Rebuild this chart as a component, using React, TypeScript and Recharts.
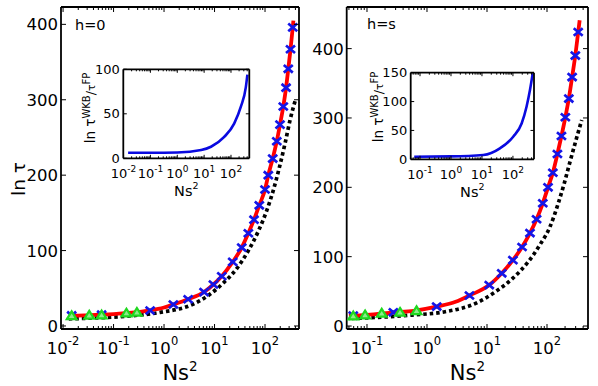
import React from "react";
import { ComposedChart, Line, Scatter, XAxis, YAxis } from "recharts";

const FONT = "'DejaVu Sans', sans-serif";

// ---- h=0 panel (left) ----
const leftRedX = [0.0148, 0.03, 0.06, 0.1, 0.2, 0.5, 1, 1.53, 3, 6.2, 9.5, 13.9, 22.9, 34.6, 46.7, 60.5, 77, 100, 116, 142, 171, 198, 230, 261, 289, 320, 354, 365];
const leftRedY = [13.5, 14.2, 15, 15.8, 17.3, 20.5, 24.5, 28.5, 35.5, 45, 55, 66, 85, 104, 123, 141, 160, 181, 200, 222, 245, 267, 291, 316, 341, 367, 396, 405];
const leftCrossX = [0.0148, 0.058, 0.53, 1.53, 3, 6.2, 9.5, 13.9, 22.9, 34.6, 46.7, 60.5, 77, 100, 116, 142, 171, 198, 230, 261, 289, 320, 354];
const leftCrossY = [14, 15, 20.5, 28.5, 35.5, 45, 55, 66, 85, 104, 123, 141, 160, 181, 200, 222, 245, 267, 291, 316, 341, 367, 396];
const leftTriX = [0.0148, 0.033, 0.058, 0.18, 0.29];
const leftTriY = [13.5, 14.2, 14.5, 17, 18];
const leftDashX = [0.013, 0.04, 0.18, 0.83, 3.8, 8.1, 14.9, 27.5, 46.8, 74, 108, 146, 192, 249, 313, 405];
const leftDashY = [9.5, 10.5, 13, 18, 29, 42, 57, 76, 100, 126, 153, 180, 210, 242, 273, 301];
const leftInsetX = [0.0148, 0.1, 1, 7.8, 18, 56, 131, 233, 357, 407];
const leftInsetY = [6.3, 6.2, 6.5, 9.3, 13, 24, 39, 58, 80, 94];

// ---- h=s panel (right) ----
const rightRedX = [0.05, 0.1, 0.275, 0.6, 1.45, 3, 5.1, 10.9, 17.6, 27, 38.4, 52, 67, 85, 104, 125, 149, 174, 202, 231, 262, 296, 331, 350];
const rightRedY = [14.5, 16, 19.5, 22, 28, 35, 44, 59, 76, 95, 114, 134, 154, 177, 200, 221, 248, 274, 301, 328, 359, 390, 424, 441];
const rightCrossX = [0.059, 0.275, 1.45, 5.1, 10.9, 17.6, 27, 38.4, 52, 67, 85, 104, 125, 149, 174, 202, 231, 262, 296, 331];
const rightCrossY = [15, 19.7, 28, 44, 59, 76, 95, 114, 134, 154, 177, 200, 221, 248, 274, 301, 328, 359, 390, 424];
const rightTriX = [0.059, 0.093, 0.176, 0.355, 0.67];
const rightTriY = [14.4, 15.8, 18.3, 19.7, 22];
const rightDashX = [0.056, 0.155, 0.56, 2, 7, 13.6, 27, 49, 76, 112, 154, 194, 242, 304, 379];
const rightDashY = [11, 12.5, 15.8, 20.6, 34, 49, 69, 93, 117, 143, 177, 206, 237, 268, 297];
const rightInsetX = [0.065, 1, 11, 38, 102, 191, 275, 355, 436];
const rightInsetY = [4.5, 5, 7.5, 19, 39, 62, 91, 120, 149];

// ticks
const leftDecades = [0.001, 0.01, 0.1, 1, 10, 100];
const rightDecades = [0.01, 0.1, 1, 10, 100];
const minorSteps = [1, 2, 3, 4, 5, 6, 7, 8, 9];
const mainYTicks = [0, 100, 200, 300, 400];
const leftInsetYTicks = [0, 50, 100];
const rightInsetYTicks = [0, 50, 100, 150];

type Pt = { x: number; y: number };
const zip = (xs: number[], ys: number[]): Pt[] => xs.map((x, i) => ({ x, y: ys[i] }));
const logTicks = (decades: number[], lo: number, hi: number) =>
  decades.flatMap((d) => minorSteps.map((k) => +(k * d).toPrecision(3))).filter((v) => v >= lo && v <= hi);
const isMajor = (v: number) => Math.abs(Math.log10(v) - Math.round(Math.log10(v))) < 1e-6;

type TickStyle = { major: number; minor: number; font: number; sup: number; supDy: number; gap: number; yGap: number };
const MAIN: TickStyle = { major: 5, minor: 3, font: 16.5, sup: 11.5, supDy: 9, gap: 25, yGap: 3 };
const INSET: TickStyle = { major: 3.5, minor: 2, font: 13, sup: 9, supDy: 6, gap: 20, yGap: 3.5 };
const AXIS = { stroke: "#000", strokeWidth: 1.8 };

const bottomTick = (s: TickStyle) => (p: any) => {
  const v = p.payload.value as number;
  const maj = isMajor(v);
  return (
    <g>
      <line x1={p.x} x2={p.x} y1={p.y} y2={p.y - (maj ? s.major : s.minor)} stroke="#000" strokeWidth={1} />
      {maj && (
        <text x={p.x} y={p.y + s.gap} textAnchor="middle" fontFamily={FONT} fontSize={s.font} fill="#000">
          10<tspan dy={-s.supDy} fontSize={s.sup}>{Math.round(Math.log10(v))}</tspan>
        </text>
      )}
    </g>
  );
};
const topTick = (s: TickStyle) => (p: any) => {
  const maj = isMajor(p.payload.value);
  return <line x1={p.x} x2={p.x} y1={p.y} y2={p.y + (maj ? s.major : s.minor)} stroke="#000" strokeWidth={1} />;
};
const leftTick = (s: TickStyle) => (p: any) => (
  <g>
    <line x1={p.x} x2={p.x + s.major} y1={p.y} y2={p.y} stroke="#000" strokeWidth={1} />
    <text x={p.x - s.yGap} y={p.y} dy="0.36em" textAnchor="end" fontFamily={FONT} fontSize={s.font} fill="#000">
      {p.payload.value}
    </text>
  </g>
);
const rightTick = (s: TickStyle) => (p: any) => (
  <line x1={p.x} x2={p.x - s.major} y1={p.y} y2={p.y} stroke="#000" strokeWidth={1} />
);

const Cross = (p: any) => (
  <path
    d={`M${p.cx - 4.5},${p.cy - 3.8}L${p.cx + 4.5},${p.cy + 3.8}M${p.cx - 4.5},${p.cy + 3.8}L${p.cx + 4.5},${p.cy - 3.8}`}
    stroke="#1515e8"
    strokeWidth={2.7}
    fill="none"
  />
);
const Tri = (p: any) => (
  <path
    d={`M${p.cx},${p.cy - 4.4}L${p.cx + 4.8},${p.cy + 3.3}L${p.cx - 4.8},${p.cy + 3.3}Z`}
    stroke="#1fd81f"
    strokeWidth={2.2}
    fill="#8cec8c"
  />
);

const nsLabel = (x: number, y: number, size: number, sup: number) => () => (
  <text x={x} y={y} textAnchor="middle" fontFamily={FONT} fontSize={size} fill="#000">
    Ns<tspan dy={-size * 0.45} fontSize={sup}>2</tspan>
  </text>
);

type PanelProps = {
  left: number;
  width: number;
  plotLeft: number;
  plotRight: number;
  xDomain: [number, number];
  yDomain: [number, number];
  xTicks: number[];
  red: Pt[];
  dashed: Pt[];
  crosses: Pt[];
  triangles: Pt[];
  tag: string;
  tagX: number;
  tagY: number;
  yLabel: boolean;
};

function MainPanel(p: PanelProps) {
  const yw = p.plotLeft - p.left;
  // right axis band is 1px wide, its line sits on the plot's right edge
  const mr = p.left + p.width - p.plotRight - 1;
  const cx = (p.plotLeft + p.plotRight) / 2 - p.left;
  return (
    <div style={{ position: "absolute", left: p.left, top: 0, width: p.width, height: 386 }}>
      <ComposedChart width={p.width} height={386} margin={{ top: 6, right: mr, bottom: 0, left: 0 }}>
        <XAxis
          xAxisId="b"
          dataKey="x"
          type="number"
          scale="log"
          domain={p.xDomain}
          allowDataOverflow
          ticks={p.xTicks}
          interval={0}
          tick={bottomTick(MAIN)}
          tickLine={false}
          tickSize={0}
          tickMargin={0}
          axisLine={AXIS}
          height={57}
          label={nsLabel(cx, 380, 21, 13.5)}
        />
        <XAxis
          xAxisId="t"
          orientation="top"
          dataKey="x"
          type="number"
          scale="log"
          domain={p.xDomain}
          allowDataOverflow
          ticks={p.xTicks}
          interval={0}
          tick={topTick(MAIN)}
          tickLine={false}
          tickSize={0}
          tickMargin={0}
          axisLine={AXIS}
          height={1}
          label={() => (
            <text x={p.tagX} y={p.tagY} fontFamily={FONT} fontSize={14.5} fill="#000">
              {p.tag}
            </text>
          )}
        />
        <YAxis
          yAxisId="l"
          dataKey="y"
          type="number"
          domain={p.yDomain}
          allowDataOverflow
          ticks={mainYTicks}
          interval={0}
          tick={leftTick(MAIN)}
          tickLine={false}
          tickSize={0}
          tickMargin={0}
          axisLine={AXIS}
          width={yw}
          label={() =>
            p.yLabel ? (
              <text x={25} y={179} transform="rotate(-90 25 179)" textAnchor="middle" fontFamily={FONT} fontSize={18.5} fill="#000">
                ln τ
              </text>
            ) : null
          }
        />
        <YAxis
          yAxisId="r"
          orientation="right"
          dataKey="y"
          type="number"
          domain={p.yDomain}
          allowDataOverflow
          ticks={mainYTicks}
          interval={0}
          tick={rightTick(MAIN)}
          tickLine={false}
          tickSize={0}
          tickMargin={0}
          axisLine={AXIS}
          width={1}
        />
        <Line xAxisId="b" yAxisId="l" data={p.dashed} dataKey="y" type="monotone" stroke="#000" strokeWidth={3.7} strokeDasharray="3.5 3" dot={false} isAnimationActive={false} />
        <Line xAxisId="b" yAxisId="l" data={p.red} dataKey="y" type="monotone" stroke="#ff0000" strokeWidth={3.8} dot={false} isAnimationActive={false} />
        <Scatter xAxisId="b" yAxisId="l" data={p.crosses} dataKey="y" shape={Cross} isAnimationActive={false} />
        <Scatter xAxisId="b" yAxisId="l" data={p.triangles} dataKey="y" shape={Tri} isAnimationActive={false} />
      </ComposedChart>
    </div>
  );
}

type InsetProps = {
  left: number;
  top: number;
  width: number;
  height: number;
  plot: { l: number; r: number; t: number; b: number };
  xDomain: [number, number];
  yDomain: [number, number];
  xTicks: number[];
  yTicks: number[];
  curve: Pt[];
  labelX: number;
  labelY: number;
  nsY: number;
};

function InsetPanel(p: InsetProps) {
  const yw = p.plot.l - p.left;
  const mr = p.left + p.width - p.plot.r - 1;
  const mt = p.plot.t - p.top - 1;
  const xh = p.top + p.height - p.plot.b;
  const cx = (p.plot.l + p.plot.r) / 2 - p.left;
  return (
    <div style={{ position: "absolute", left: p.left, top: p.top, width: p.width, height: p.height }}>
      <ComposedChart width={p.width} height={p.height} margin={{ top: mt, right: mr, bottom: 0, left: 0 }}>
        <XAxis
          xAxisId="b"
          dataKey="x"
          type="number"
          scale="log"
          domain={p.xDomain}
          allowDataOverflow
          ticks={p.xTicks}
          interval={0}
          tick={bottomTick(INSET)}
          tickLine={false}
          tickSize={0}
          tickMargin={0}
          axisLine={AXIS}
          height={xh}
          label={nsLabel(cx, p.nsY, 14.5, 9.5)}
        />
        <XAxis
          xAxisId="t"
          orientation="top"
          dataKey="x"
          type="number"
          scale="log"
          domain={p.xDomain}
          allowDataOverflow
          ticks={p.xTicks}
          interval={0}
          tick={topTick(INSET)}
          tickLine={false}
          tickSize={0}
          tickMargin={0}
          axisLine={AXIS}
          height={1}
        />
        <YAxis
          yAxisId="l"
          dataKey="y"
          type="number"
          domain={p.yDomain}
          allowDataOverflow
          ticks={p.yTicks}
          interval={0}
          tick={leftTick(INSET)}
          tickLine={false}
          tickSize={0}
          tickMargin={0}
          axisLine={AXIS}
          width={yw}
          label={() => (
            <text
              x={p.labelX}
              y={p.labelY}
              transform={`rotate(-90 ${p.labelX} ${p.labelY})`}
              textAnchor="middle"
              fontFamily={FONT}
              fontSize={13.5}
              fill="#000"
            >
              ln τ<tspan dy={-5} fontSize={10}>WKB</tspan>
              <tspan dy={5} fontSize={12.5}>/</tspan>
              <tspan fontSize={11}>τ</tspan>
              <tspan dy={-5} fontSize={10}>FP</tspan>
            </text>
          )}
        />
        <YAxis
          yAxisId="r"
          orientation="right"
          dataKey="y"
          type="number"
          domain={p.yDomain}
          allowDataOverflow
          ticks={p.yTicks}
          interval={0}
          tick={rightTick(INSET)}
          tickLine={false}
          tickSize={0}
          tickMargin={0}
          axisLine={AXIS}
          width={1}
        />
        <Line xAxisId="b" yAxisId="l" data={p.curve} dataKey="y" type="monotone" stroke="#0a0ae0" strokeWidth={2.6} dot={false} isAnimationActive={false} />
      </ComposedChart>
    </div>
  );
}

export default function App() {
  const leftXDomain: [number, number] = [0.0091, 471];
  const rightXDomain: [number, number] = [0.0459, 482];
  const leftInsetXDomain: [number, number] = [0.0098, 480];
  const rightInsetXDomain: [number, number] = [0.05, 479];
  return (
    <div style={{ position: "absolute", left: 0, top: 0, width: 598, height: 386, background: "#fff", fontFamily: FONT }}>
      <MainPanel
        left={0}
        width={300}
        plotLeft={61}
        plotRight={299}
        xDomain={leftXDomain}
        yDomain={[-4, 423]}
        xTicks={logTicks(leftDecades, leftXDomain[0], leftXDomain[1])}
        red={zip(leftRedX, leftRedY)}
        dashed={zip(leftDashX, leftDashY)}
        crosses={zip(leftCrossX, leftCrossY)}
        triangles={zip(leftTriX, leftTriY)}
        tag="h=0"
        tagX={75}
        tagY={30}
        yLabel
      />
      <MainPanel
        left={300}
        width={298}
        plotLeft={346.7}
        plotRight={588}
        xDomain={rightXDomain}
        yDomain={[-4.3, 460]}
        xTicks={logTicks(rightDecades, rightXDomain[0], rightXDomain[1])}
        red={zip(rightRedX, rightRedY)}
        dashed={zip(rightDashX, rightDashY)}
        crosses={zip(rightCrossX, rightCrossY)}
        triangles={zip(rightTriX, rightTriY)}
        tag="h=s"
        tagX={67}
        tagY={28.5}
        yLabel={false}
      />
      <InsetPanel
        left={80}
        top={60}
        width={180}
        height={145}
        plot={{ l: 123.3, r: 249.3, t: 69.3, b: 158.3 }}
        xDomain={leftInsetXDomain}
        yDomain={[0, 100]}
        xTicks={logTicks(leftDecades, leftInsetXDomain[0], leftInsetXDomain[1])}
        yTicks={leftInsetYTicks}
        curve={zip(leftInsetX, leftInsetY)}
        labelX={15}
        labelY={48}
        nsY={136}
      />
      <InsetPanel
        left={365}
        top={60}
        width={180}
        height={150}
        plot={{ l: 410.7, r: 534, t: 72.7, b: 159.3 }}
        xDomain={rightInsetXDomain}
        yDomain={[0, 150]}
        xTicks={logTicks(rightDecades, rightInsetXDomain[0], rightInsetXDomain[1])}
        yTicks={rightInsetYTicks}
        curve={zip(rightInsetX, rightInsetY)}
        labelX={18}
        labelY={47}
        nsY={136.7}
      />
    </div>
  );
}
